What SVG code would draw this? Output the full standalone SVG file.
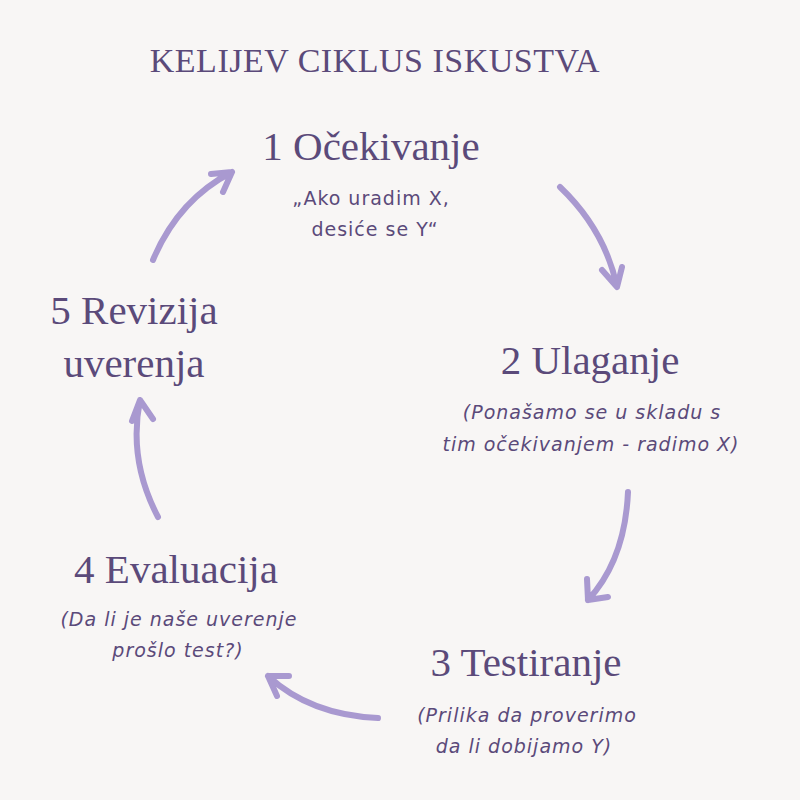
<svg xmlns="http://www.w3.org/2000/svg" width="800" height="800" viewBox="0 0 800 800">
<style>
.h{font-family:"Liberation Serif",serif;fill:#5b4a7a;font-size:41px;text-anchor:middle}
.s{font-family:"DejaVu Sans",sans-serif;fill:#5b4a7a;font-size:19px;letter-spacing:1px;text-anchor:middle}
.i{font-style:italic}
.a{fill:none;stroke:#a999d0;stroke-width:6;stroke-linecap:round;stroke-linejoin:round}
</style>
<rect width="800" height="800" fill="#f8f6f5"/>
<text x="375" y="72" class="h" style="font-size:34px;letter-spacing:0.5px">KELIJEV CIKLUS ISKUSTVA</text>
<g id="n1"><text x="371" y="160" class="h">1 Očekivanje</text>
<text x="371" y="205" class="s">„Ako uradim X,</text><text x="375" y="236" class="s">desiće se Y“</text></g>
<g id="n2"><text x="590" y="374" class="h">2 Ulaganje</text>
<text x="592" y="419" class="s i">(Ponašamo se u skladu s</text><text x="591" y="451" class="s i">tim očekivanjem - radimo X)</text></g>
<g id="n3"><text x="526" y="676" class="h">3 Testiranje</text>
<text x="527" y="722" class="s i">(Prilika da proverimo</text><text x="524" y="753" class="s i">da li dobijamo Y)</text></g>
<g id="n4"><text x="176" y="583" class="h">4 Evaluacija</text>
<text x="179" y="626" class="s i">(Da li je naše uverenje</text><text x="178" y="657" class="s i">prošlo test?)</text></g>
<g id="n5"><text x="134" y="324" class="h">5 Revizija</text><text x="134" y="377" class="h">uverenja</text></g>
<g id="connectors">
<path class="a" d="M560 187 Q605 230 617 287 M602 270 L617 287 L622 267"/>
<path class="a" d="M628 492 Q625 560 588 600 M587 579 L588 600 L608 597"/>
<path class="a" d="M378 718 Q310 715 268 676 M289 676 L268 676 L277 696"/>
<path class="a" d="M158 517 Q128 460 140 400 M132 421 L140 400 L153 419"/>
<path class="a" d="M153 260 Q178 200 232 172 M211 174 L232 172 L223 192"/>
</g>
</svg>
